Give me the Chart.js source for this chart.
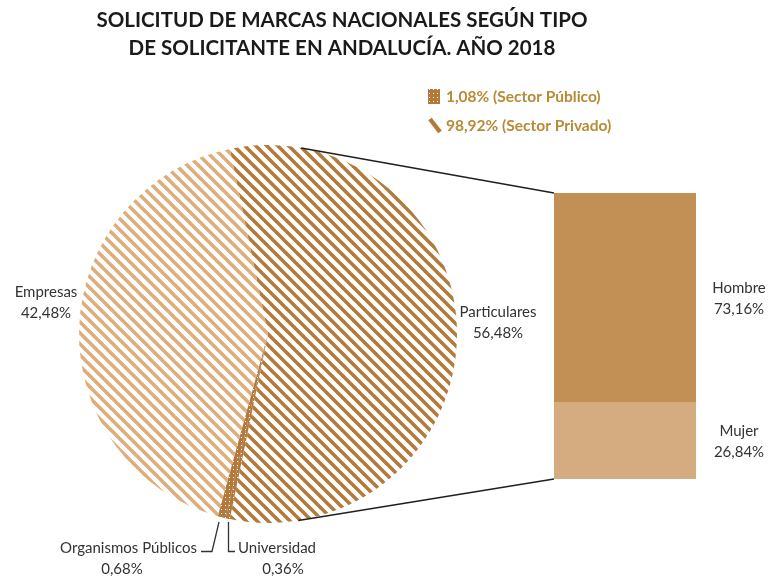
<!DOCTYPE html>
<html>
<head>
<meta charset="utf-8">
<script src="https://cdn.jsdelivr.net/npm/chart.js@4.4.0/dist/chart.umd.min.js"></script>
<style>
    html, body { margin: 0; padding: 0; background: #fff; }
    #wrap { position: relative; width: 776px; height: 577px; }
    #barBox { position: absolute; left: 554px; top: 193px; width: 142px; height: 286px; }
    #pieBox { position: absolute; left: 0; top: 0; width: 776px; height: 577px; }
</style>
</head>
<body>
<div id="wrap">
    <div id="barBox"><canvas id="barChart"></canvas></div>
    <div id="pieBox"><canvas id="pieChart"></canvas></div>
</div>
<script>
// Pie data (Particulares is the slice split into the bar)
const pieLabels = ['Particulares', 'Universidad', 'Organismos Públicos', 'Empresas'];
const pieValues = [56.48, 0.36, 0.68, 42.48];

// Bar data (breakdown of Particulares)
const barLabels = ['Hombre', 'Mujer'];
const barValues = [73.16, 26.84];

// Legend data
const sectorLabels = ['Sector Público', 'Sector Privado'];
const sectorValues = [1.08, 98.92];

const titleLines = ['SOLICITUD DE MARCAS NACIONALES SEGÚN TIPO', 'DE SOLICITANTE EN ANDALUCÍA. AÑO 2018'];

const colors = {
    darkStripe: '#b27b3c',
    lightStripe: '#dcae7b',
    dots: '#b4783a',
    hombre: '#c28f55',
    mujer: '#d5ab80',
    text: '#333333',
    legend: '#b98a35'
};

const FONT = 'Lato, "Open Sans", sans-serif';
const fmt = v => v.toFixed(2).replace('.', ',') + '%';

// ================================
// Fill patterns
// ================================
function stripePattern(color) {
    const s = 11;
    const c = document.createElement('canvas');
    c.width = s; c.height = s;
    const g = c.getContext('2d');
    g.strokeStyle = color;
    g.lineWidth = 3.6;
    g.lineCap = 'square';
    [-s, 0, s].forEach(o => {
        g.beginPath();
        g.moveTo(o, 0);
        g.lineTo(o + s, s);
        g.stroke();
    });
    return g.createPattern(c, 'repeat');
}

function dotPattern(color) {
    const c = document.createElement('canvas');
    c.width = 4; c.height = 4;
    const g = c.getContext('2d');
    g.fillStyle = color;
    g.fillRect(0, 0, 4, 4);
    g.fillStyle = '#ffffff';
    g.fillRect(1, 1, 1, 1);
    return g.createPattern(c, 'repeat');
}

const darkStripes = stripePattern(colors.darkStripe);
const lightStripes = stripePattern(colors.lightStripe);
const dots = dotPattern(colors.dots);

// ================================
// Bar of pie (stacked)
// ================================
const barChart = new Chart(document.getElementById('barChart'), {
    type: 'bar',
    data: {
        labels: [''],
        datasets: [
            { label: barLabels[1], data: [barValues[1]], backgroundColor: colors.mujer },
            { label: barLabels[0], data: [barValues[0]], backgroundColor: colors.hombre }
        ].map(d => Object.assign(d, { borderWidth: 0, barPercentage: 1, categoryPercentage: 1 }))
    },
    options: {
        responsive: true,
        maintainAspectRatio: false,
        animation: false,
        layout: { padding: 0 },
        scales: {
            x: { stacked: true, display: false },
            y: { stacked: true, display: false, min: 0, max: 100 }
        },
        plugins: { legend: { display: false }, tooltip: { enabled: false } }
    }
});

// ================================
// Texts, legend and connector lines
// ================================
function tangentPoint(cx, cy, r, px, py, upper) {
    const dx = px - cx, dy = py - cy;
    const d = Math.hypot(dx, dy);
    const base = Math.atan2(dy, dx);
    const off = Math.acos(r / d);
    const a = upper ? base - off : base + off;
    return [cx + r * Math.cos(a), cy + r * Math.sin(a)];
}

const annotations = {
    id: 'annotations',
    afterDraw(chart) {
        const ctx = chart.ctx;
        ctx.save();

        // Title
        ctx.fillStyle = '#1a1a1a';
        ctx.font = 'bold 20.5px ' + FONT;
        ctx.textAlign = 'center';
        ctx.textBaseline = 'middle';
        ctx.fillText(titleLines[0], 342, 20);
        ctx.fillText(titleLines[1], 342, 48);

        // Legend
        ctx.fillStyle = dots;
        ctx.fillRect(428, 89, 12, 15);
        ctx.strokeStyle = colors.darkStripe;
        ctx.lineWidth = 4.5;
        ctx.beginPath();
        ctx.moveTo(430, 119);
        ctx.lineTo(440, 132);
        ctx.stroke();
        ctx.font = 'bold 15.5px ' + FONT;
        ctx.fillStyle = colors.legend;
        ctx.textAlign = 'left';
        ctx.fillText(fmt(sectorValues[0]) + ' (' + sectorLabels[0] + ')', 446, 97);
        ctx.fillText(fmt(sectorValues[1]) + ' (' + sectorLabels[1] + ')', 446, 126);

        // Slice labels
        ctx.font = '15px ' + FONT;
        ctx.fillStyle = colors.text;
        ctx.textAlign = 'center';
        const labelPos = [[498, 312], [283, 548], [122, 548], [46, 292]];
        pieLabels.forEach((l, i) => {
            const [x, y] = labelPos[i];
            if (i === 1) {
                ctx.textAlign = 'left';
                ctx.fillText(l, 238, y);
                ctx.textAlign = 'center';
            } else if (i === 2) {
                ctx.textAlign = 'right';
                ctx.fillText(l, 197, y);
                ctx.textAlign = 'center';
            } else {
                ctx.fillText(l, x, y);
            }
            ctx.fillText(fmt(pieValues[i]), x, y + 21);
        });

        // Leader lines for the small slices
        ctx.strokeStyle = '#333333';
        ctx.lineWidth = 1.3;
        ctx.beginPath();
        ctx.moveTo(201, 551.5);
        ctx.lineTo(212, 551.5);
        ctx.lineTo(219, 522);
        ctx.moveTo(228.5, 522);
        ctx.lineTo(228.5, 551.5);
        ctx.lineTo(235, 551.5);
        ctx.stroke();

        // Bar labels
        const box = document.getElementById('barBox');
        const ox = box.offsetLeft, oy = box.offsetTop;
        const top = barChart.getDatasetMeta(1).data[0];
        const bottom = barChart.getDatasetMeta(0).data[0];
        const barLeft = ox + top.x - top.width / 2;
        const barRight = ox + top.x + top.width / 2;
        const labX = barRight + 43;
        [[top, 0], [bottom, 1]].forEach(([el, i]) => {
            const mid = oy + (el.y + el.base) / 2;
            ctx.fillText(barLabels[i], labX, mid - 9);
            ctx.fillText(fmt(barValues[i]), labX, mid + 12);
        });

        // Connector lines from pie to bar
        const arc = chart.getDatasetMeta(0).data[0];
        const r = arc.outerRadius;
        const barTop = oy + top.y;
        const barBottom = oy + bottom.base;
        const p1 = tangentPoint(arc.x, arc.y, r, barLeft, barTop, true);
        const p2 = tangentPoint(arc.x, arc.y, r, barLeft, barBottom, false);
        ctx.strokeStyle = '#1f1f1f';
        ctx.lineWidth = 1.5;
        ctx.beginPath();
        ctx.moveTo(p1[0], p1[1]);
        ctx.lineTo(barLeft, barTop);
        ctx.moveTo(p2[0], p2[1]);
        ctx.lineTo(barLeft, barBottom);
        ctx.stroke();

        ctx.restore();
    }
};

const pieChart = new Chart(document.getElementById('pieChart'), {
    type: 'pie',
    data: {
        labels: pieLabels,
        datasets: [{
            data: pieValues,
            backgroundColor: [darkStripes, dots, dots, lightStripes],
            borderWidth: 0,
            hoverOffset: 0
        }]
    },
    options: {
        responsive: true,
        maintainAspectRatio: false,
        animation: false,
        rotation: 90 - pieValues[0] * 3.6 / 2,   // center the split slice on the right
        layout: { padding: { left: 78, right: 318, top: 145, bottom: 54 } },
        plugins: { legend: { display: false }, tooltip: { enabled: false } }
    },
    plugins: [annotations]
});
</script>
</body>
</html>
